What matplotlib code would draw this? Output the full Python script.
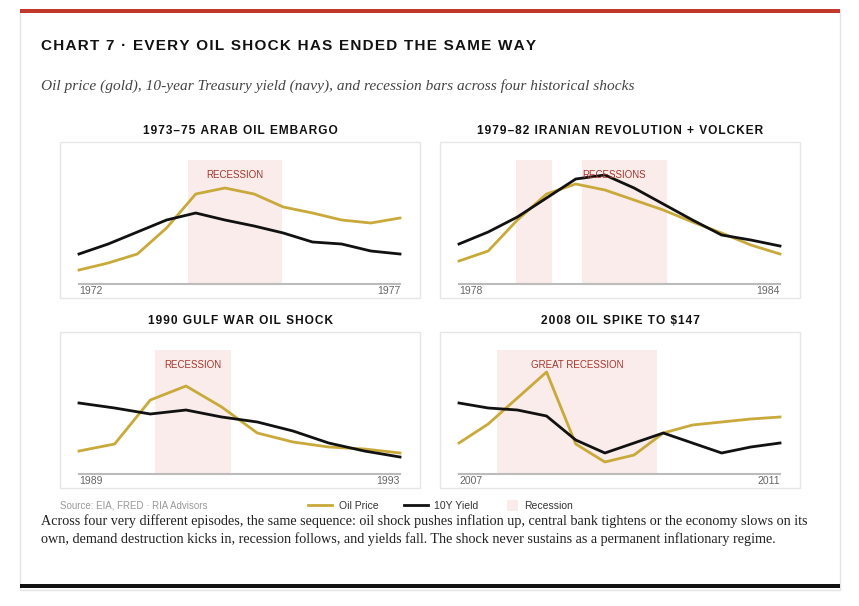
import matplotlib.pyplot as plt
from matplotlib.patches import Rectangle

W, H = 859, 606
GOLD = "#c9a93a"
NAVY = "#111111"
REC = "#f9ecea"
RED = "#a8352b"

titles = ["1973\u201375 ARAB OIL EMBARGO", "1979\u201382 IRANIAN REVOLUTION + VOLCKER",
          "1990 GULF WAR OIL SHOCK", "2008 OIL SPIKE TO $147"]
start_years = ["1972", "1978", "1989", "2007"]
end_years = ["1977", "1984", "1993", "2011"]
rec_labels = ["RECESSION", "RECESSIONS", "RECESSION", "GREAT RECESSION"]

oil = [
    [14, 21, 30, 56, 90, 96, 90, 77, 71, 64, 61, 66],
    [23, 33, 64, 90, 100, 94, 84, 74, 62, 51, 39, 30],
    [23, 30, 74, 88, 67, 41, 32, 27, 25, 21],
    [31, 50, 76, 102, 30, 12, 19, 41, 49, 52, 55, 57],
]
yld = [
    [30, 40, 52, 64, 71, 64, 58, 51, 42, 40, 33, 30],
    [40, 52, 67, 86, 105, 109, 96, 80, 64, 49, 44, 38],
    [71, 66, 60, 64, 57, 52, 43, 31, 23, 17],
    [71, 66, 64, 58, 34, 21, 31, 41, 31, 21, 27, 31],
]
recessions = [
    [(3.72, 6.96)],
    [(1.95, 3.2), (4.23, 7.14)],
    [(2.12, 4.25)],
    [(1.3, 6.78)],
]
rec_label_x = [5.34, 5.3, 3.18, 4.04]

SANS = "Liberation Sans"
SERIF = "Liberation Serif"


def spaced(s, gap="\u200a"):
    return gap.join(s)


fig = plt.figure(figsize=(W / 100, H / 100), dpi=100)
fig.patch.set_facecolor("white")


def px(x0, y0, w, h):
    return [x0 / W, 1 - (y0 + h) / H, w / W, h / H]


# card
card = fig.add_axes([0, 0, 1, 1])
card.set_xlim(0, W)
card.set_ylim(H, 0)
card.axis("off")
card.add_patch(Rectangle((20, 10), 820, 580, fill=False, ec="#e4e4e4", lw=1))
card.add_patch(Rectangle((20, 9), 820, 4, color="#c0392b", lw=0))
card.add_patch(Rectangle((20, 584), 820, 4, color="#111111", lw=0))

card.text(41, 46, spaced("CHART 7 \u00b7 EVERY OIL SHOCK HAS ENDED THE SAME WAY"),
          fontsize=11, fontweight="bold", va="center", color="#111", family=[SANS, "DejaVu Sans"])
card.text(41, 86,
          "Oil price (gold), 10-year Treasury yield (navy), and recession bars across four historical shocks",
          fontsize=11.1, style="italic", va="center", color="#444", family=SERIF)

frames = [(60, 142), (440, 142), (60, 332), (440, 332)]
for i in range(4):
    fx, fy = frames[i]
    n = len(oil[i])
    sp = 321 / (n - 1)
    card.add_patch(Rectangle((fx, fy), 360, 156, fill=False, ec="#e6e6e6", lw=1))
    card.text(fx + 180, fy - 11, spaced(titles[i]), ha="center", va="center",
              fontsize=8.6, fontweight="bold", color="#111", family=[SANS, "DejaVu Sans"])
    ax = fig.add_axes(px(fx, fy, 360, 156))
    ax.set_xlim(-19 / sp, (n - 1) + 20 / sp)
    ax.set_ylim(-14, 142)
    ax.axis("off")
    for a, b in recessions[i]:
        ax.add_patch(Rectangle((a, 0), b - a, 124, color=REC, lw=0))
    ax.text(rec_label_x[i], 109, rec_labels[i], ha="center", va="center",
            fontsize=7, color=RED, family=SANS)
    ax.plot([0, n - 1], [0, 0], color="#bbbbbb", lw=1.5)
    xs = list(range(n))
    ax.plot(xs, oil[i], color=GOLD, lw=2)
    ax.plot(xs, yld[i], color=NAVY, lw=2)
    ax.text(0, -7, start_years[i], ha="left", va="center", fontsize=7.5, color="#666", family=SANS)
    ax.text(n - 1, -7, end_years[i], ha="right", va="center", fontsize=7.5, color="#666", family=SANS)

# legend / source
card.text(60, 506, "Source: EIA, FRED \u00b7 RIA Advisors", fontsize=7, color="#999", va="center", family=SANS)
card.plot([308, 332], [505, 505], color=GOLD, lw=2)
card.text(339, 506, "Oil Price", fontsize=7.5, color="#333", va="center", family=SANS)
card.plot([404, 428], [505, 505], color=NAVY, lw=2)
card.text(434, 506, "10Y Yield", fontsize=7.5, color="#333", va="center", family=SANS)
card.add_patch(Rectangle((507, 500), 11, 11, color=REC, lw=0))
card.text(524, 506, "Recession", fontsize=7.5, color="#333", va="center", family=SANS)

card.text(41, 521, "Across four very different episodes, the same sequence: oil shock pushes inflation up, "
          "central bank tightens or the economy slows on its", fontsize=10.2, color="#222",
          va="center", family=SERIF)
card.text(41, 539, "own, demand destruction kicks in, recession follows, and yields fall. "
          "The shock never sustains as a permanent inflationary regime.", fontsize=10.2,
          color="#222", va="center", family=SERIF)

fig.savefig("out.png", dpi=100, facecolor="white")
